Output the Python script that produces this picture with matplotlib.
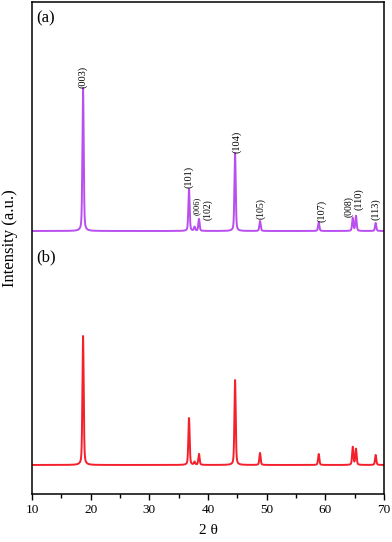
import numpy as np
import matplotlib.pyplot as plt

plt.rcParams['font.family'] = ['Liberation Serif', 'DejaVu Serif']

# peak positions (2 theta) and heights (a.u.)
peak_pos = [18.7, 36.75, 37.7, 38.45, 44.6, 48.85, 58.85, 64.65, 65.2, 68.55]
heights_a = [143, 42, 4, 12, 78, 10, 9, 13, 15, 8]
heights_b = [129, 47, 3, 11, 85, 12, 11, 18, 16, 10]
offset_a = 234

# hkl labels for pattern (a): text, x, y (bottom of label), font size
hkl_text = ['(003)', '(101)', '(006)', '(102)', '(104)', '(105)', '(107)', '(008)', '(110)', '(113)']
hkl_x = [18.7, 36.75, 38.1, 40.0, 44.9, 49.0, 59.3, 63.9, 65.6, 68.6]
hkl_y = [377, 277, 250, 245, 312, 246, 243, 248, 255, 245]
hkl_size = [7.5, 7.5, 6, 7, 7.5, 7, 7.5, 7, 7.5, 7.5]

color_a = '#B84FEE'
color_b = '#F4202C'
fwhm = 0.26


def pattern(x, heights):
    # pseudo-Voigt peaks built from the peak table
    y = np.zeros_like(x)
    for p, h in zip(peak_pos, heights):
        g = np.exp(-4 * np.log(2) * (x - p) ** 2 / fwhm ** 2)
        l = 1 / (1 + 4 * (x - p) ** 2 / fwhm ** 2)
        y += h * (0.6 * g + 0.4 * l)
    return y


two_theta = np.linspace(10, 70, 6000)

fig = plt.figure(figsize=(3.92, 5.42), dpi=100)
ax = fig.add_axes([0.0816, 0.0886, 0.8984, 0.9077])

ax.plot(two_theta, pattern(two_theta, heights_b), color=color_b, lw=1.4)
ax.plot(two_theta, pattern(two_theta, heights_a) + offset_a, color=color_a, lw=1.4)

for t, x, y, s in zip(hkl_text, hkl_x, hkl_y, hkl_size):
    ax.text(x, y, t, rotation=90, ha='center', va='bottom', fontsize=s)

ax.text(0.012, 0.967, '(a)', transform=ax.transAxes, fontsize=12, va='center', ha='left')
ax.text(0.012, 0.48, '(b)', transform=ax.transAxes, fontsize=12, va='center', ha='left')

ax.set_xlim(10, 70)
ax.set_ylim(-29, 463)
ax.set_xticks(np.arange(10, 71, 10))
ax.set_xticks(np.arange(15, 70, 10), minor=True)
ax.set_yticks([])
ax.tick_params(axis='x', which='major', direction='out', length=4, width=1, labelsize=9.5, pad=3)
ax.tick_params(axis='x', which='minor', direction='out', length=3, width=1)
for sp in ax.spines.values():
    sp.set_linewidth(1.1)

ax.set_xlabel('2 θ', fontsize=11, labelpad=6)
ax.set_ylabel('Intensity (a.u.)', fontsize=12, va='center')
ax.yaxis.set_label_coords(-0.062, 0.52)

fig.savefig('out.png', dpi=100)
